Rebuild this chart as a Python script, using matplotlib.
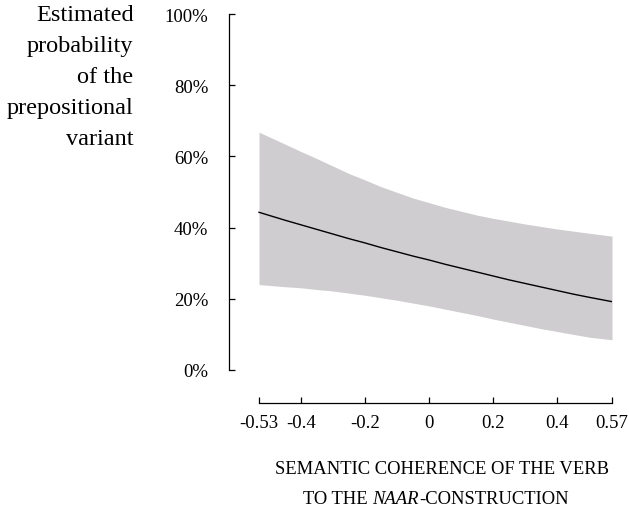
import matplotlib
matplotlib.use("Agg")
import matplotlib.pyplot as plt

# ---- data ----
coherence = [-0.53, -0.45, -0.4, -0.35, -0.3, -0.25, -0.2, -0.15, -0.1, -0.05, 0.0,
             0.05, 0.1, 0.15, 0.2, 0.25, 0.3, 0.35, 0.4, 0.45, 0.5, 0.57]
fit =   [0.443, 0.421, 0.408, 0.395, 0.382, 0.369, 0.357, 0.344, 0.332, 0.320, 0.309,
         0.297, 0.286, 0.275, 0.264, 0.253, 0.243, 0.233, 0.223, 0.213, 0.204, 0.192]
upper = [0.668, 0.635, 0.614, 0.594, 0.573, 0.552, 0.534, 0.515, 0.499, 0.483, 0.470,
         0.457, 0.446, 0.435, 0.426, 0.418, 0.410, 0.403, 0.396, 0.390, 0.384, 0.376]
lower = [0.240, 0.234, 0.231, 0.226, 0.222, 0.216, 0.210, 0.203, 0.196, 0.188, 0.180,
         0.171, 0.162, 0.153, 0.143, 0.134, 0.125, 0.116, 0.108, 0.100, 0.092, 0.085]

xticks = [-0.53, -0.4, -0.2, 0, 0.2, 0.4, 0.57]
xtick_labels = ["-0.53", "-0.4", "-0.2", "0", "0.2", "0.4", "0.57"]
yticks = [0, 0.2, 0.4, 0.6, 0.8, 1.0]
ytick_labels = ["0%", "20%", "40%", "60%", "80%", "100%"]
ylabel_lines = ["Estimated", "probability", "of the", "prepositional", "variant"]

SERIF = "Liberation Serif"
plt.rcParams["font.family"] = [SERIF, "DejaVu Serif"]

W, H = 629, 510
fig = plt.figure(figsize=(W / 100, H / 100), dpi=100)

# axes in pixel geometry
ax_left, ax_right, ax_bottom, ax_top = 229, 612, 404, 15
ax = fig.add_axes([ax_left / W, (H - ax_bottom) / H,
                   (ax_right - ax_left) / W, (ax_bottom - ax_top) / H])

px_per_x = (612 - 259) / (0.57 - (-0.53))
px_per_y = (371 - 15) / 1.0
ax.set_xlim(-0.53 - (259 - 229) / px_per_x, 0.57)
ax.set_ylim(0 - (404 - 371) / px_per_y, 1.0)

ax.fill_between(coherence, lower, upper, color="#cfcdcf", linewidth=0, zorder=1)
ax.plot(coherence, fit, color="black", linewidth=1.0, zorder=2)

for s in ["top", "right"]:
    ax.spines[s].set_visible(False)
ax.spines["left"].set_bounds(0, 1)
ax.spines["bottom"].set_bounds(-0.53, 0.57)
for s in ["left", "bottom"]:
    ax.spines[s].set_linewidth(0.9)
    ax.spines[s].set_color("black")

ax.set_xticks(xticks)
ax.set_xticklabels(xtick_labels)
ax.set_yticks(yticks)
ax.set_yticklabels(ytick_labels)
ax.tick_params(axis="x", direction="in", length=4, width=0.9, pad=8, labelsize=13.5)
ax.tick_params(axis="y", direction="in", length=4.5, width=0.9, pad=15, labelsize=13.5)
ax.patch.set_visible(False)

# y label, right aligned, top-left
baselines = [21, 52, 83, 114, 145]
for line, b in zip(ylabel_lines, baselines):
    fig.text(133.5 / W, 1 - b / H, line, ha="right", va="baseline", fontsize=17.5)

# x label in small caps (simulated with uppercase)
fig.canvas.draw()
renderer = fig.canvas.get_renderer()

def draw_pieces(pieces, center_px, baseline_px, size):
    texts = []
    for s, style in pieces:
        t = fig.text(0, 1 - baseline_px / H, s, ha="left", va="baseline",
                     fontsize=size, fontstyle=style)
        texts.append(t)
    widths = [t.get_window_extent(renderer).width for t in texts]
    total = sum(widths)
    x = center_px - total / 2
    for t, w in zip(texts, widths):
        t.set_x(x / W)
        x += w

draw_pieces([("SEMANTIC COHERENCE OF THE VERB", "normal")], 442, 474, 13.4)
draw_pieces([("TO THE ", "normal"), ("NAAR", "italic"), ("-CONSTRUCTION", "normal")], 436, 504, 13.4)

fig.savefig("out.png", dpi=100)
